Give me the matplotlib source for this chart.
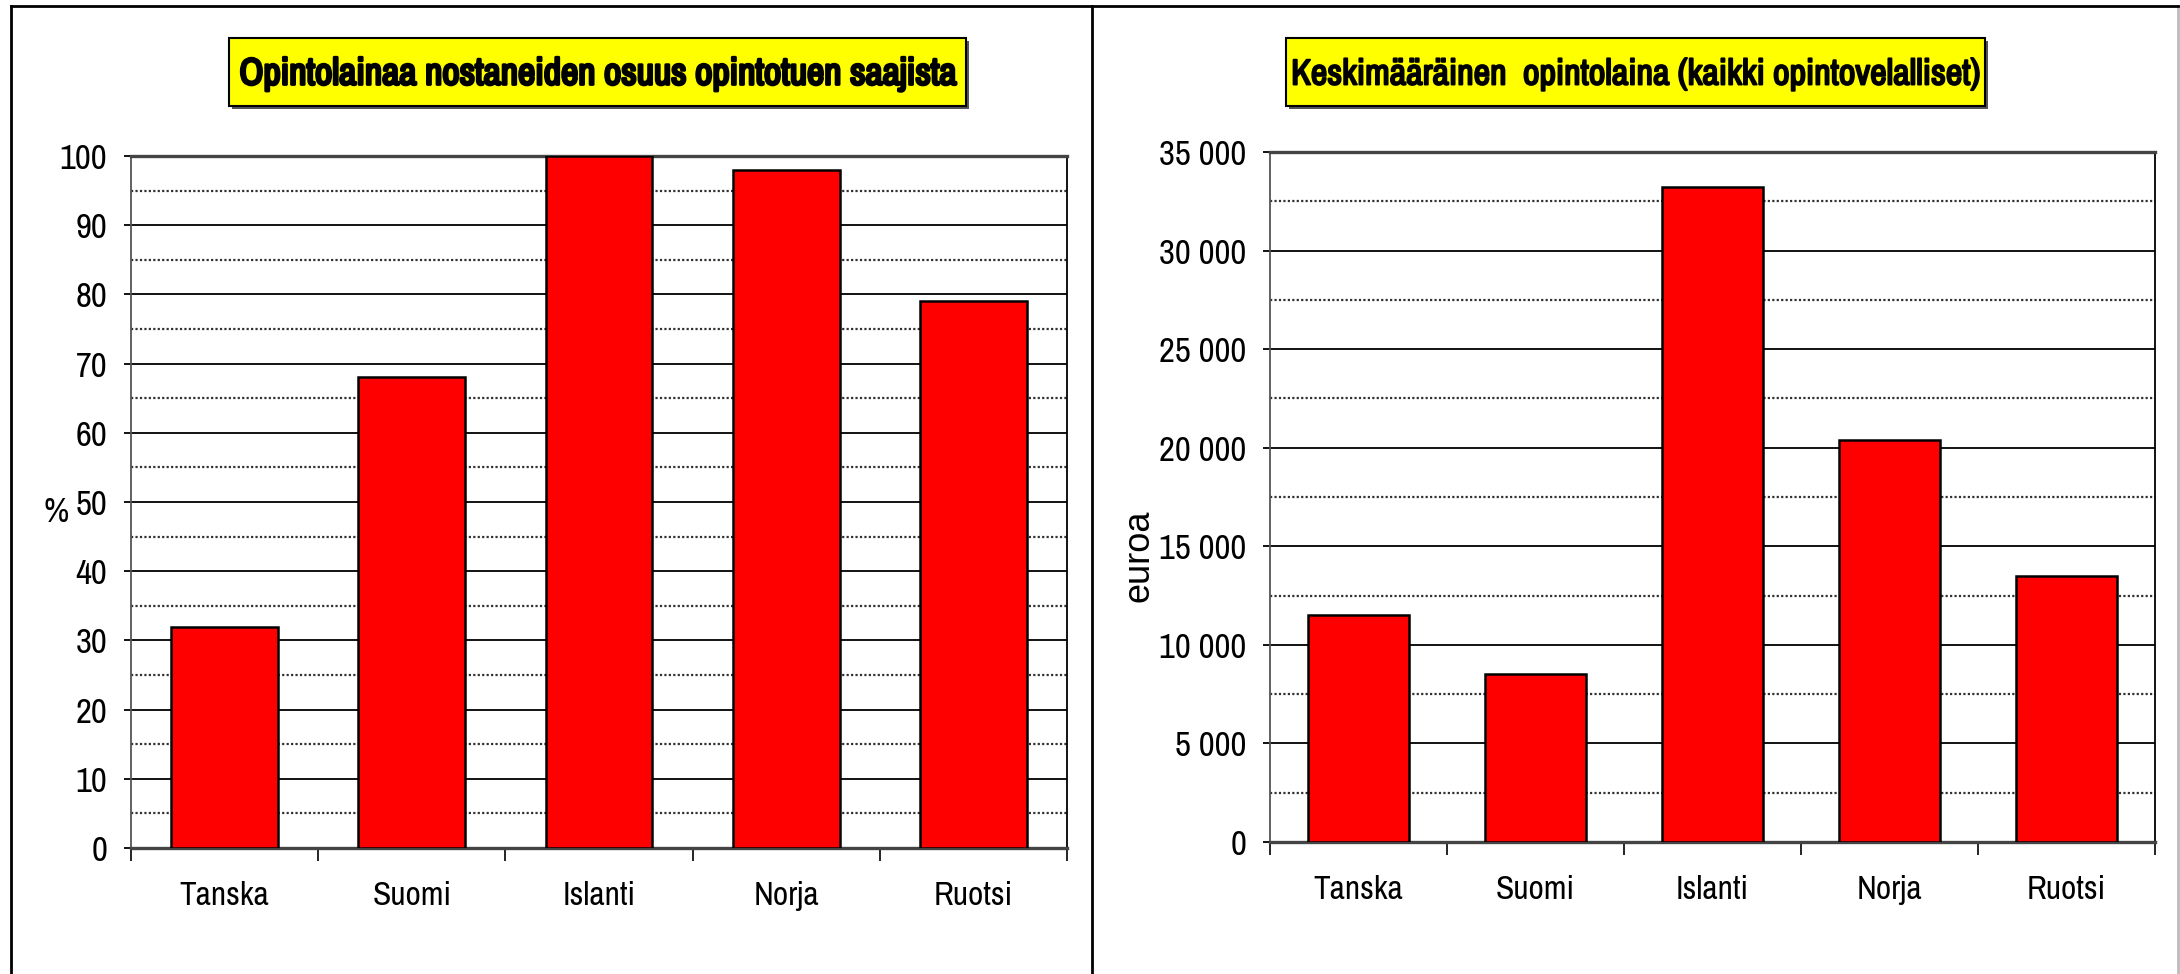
import matplotlib
matplotlib.use("Agg")
import matplotlib.pyplot as plt
import matplotlib.patheffects as pe
from matplotlib import font_manager
from matplotlib.patches import Rectangle
from matplotlib.lines import Line2D
from matplotlib.ticker import FuncFormatter, MultipleLocator

# data
countries = ["Tanska", "Suomi", "Islanti", "Norja", "Ruotsi"]
share_pct = [32, 68, 100, 98, 79]
avg_loan_eur = [11500, 8500, 33200, 20400, 13500]

title_left = "Opintolainaa nostaneiden osuus opintotuen saajista"
title_right = "Keskimääräinen  opintolaina (kaikki opintovelalliset)"

W, H = 2180, 974
names = {f.name for f in font_manager.fontManager.ttflist}
NARROW = next((n for n in ["Liberation Sans Narrow", "Archivo Narrow", "PT Sans Narrow",
                           "Roboto Condensed", "Fira Sans Condensed"] if n in names), "DejaVu Sans")

plt.rcParams.update({"font.family": [NARROW, "DejaVu Sans"], "font.size": 24})


def fx(px):
    return px / W


def fy(py):
    return 1 - py / H


def axes_rect(left, top, right, bottom):
    return [fx(left), fy(bottom), fx(right) - fx(left), fy(top) - fy(bottom)]


def setup_axis(ax, ymax, major, minor, fmt):
    ax.set_xlim(-0.5, len(countries) - 0.5)
    ax.set_ylim(0, ymax)
    ax.set_axisbelow(True)
    ax.yaxis.set_major_locator(MultipleLocator(major))
    ax.yaxis.set_minor_locator(MultipleLocator(minor))
    ax.yaxis.set_major_formatter(FuncFormatter(fmt))
    ax.grid(True, which="major", axis="y", color="black", linewidth=1.3)
    ax.grid(True, which="minor", axis="y", color="#333333", linewidth=1.6, linestyle=(0, (1, 1)))
    ax.tick_params(axis="y", which="major", length=5, width=1.3, pad=12, labelsize=25)
    ax.tick_params(axis="y", which="minor", length=0)
    ax.set_xticks(range(len(countries)))
    ax.set_xticklabels(countries)
    ax.set_xticks([i - 0.5 for i in range(len(countries) + 1)], minor=True)
    ax.tick_params(axis="x", which="major", length=0, pad=24, labelsize=24)
    ax.tick_params(axis="x", which="minor", length=9.5, width=1.2, color="black")
    ax.spines["top"].set_color("#444444")
    ax.spines["top"].set_linewidth(2.4)
    ax.spines["bottom"].set_color("#444444")
    ax.spines["bottom"].set_linewidth(2.4)
    ax.spines["left"].set_color("#555555")
    ax.spines["left"].set_linewidth(1.3)
    ax.spines["right"].set_color("black")
    ax.spines["right"].set_linewidth(1.3)


def title_box(fig, left, right, text, text_width, stroke):
    top, bottom = 38, 106
    fig.patches.append(Rectangle((fx(left) + fx(3), fy(bottom) - 3 / H), fx(right) - fx(left), fy(top) - fy(bottom),
                                 transform=fig.transFigure, facecolor="#555555", edgecolor="none", zorder=1))
    fig.patches.append(Rectangle((fx(left), fy(bottom)), fx(right) - fx(left), fy(top) - fy(bottom),
                                 transform=fig.transFigure, facecolor="#ffff00", edgecolor="black",
                                 linewidth=1.5, zorder=2))
    t = fig.text(fx((left + right) / 2), fy(74), text, ha="center", va="center", fontsize=30,
                 fontweight="bold", zorder=3,
                 path_effects=[pe.withStroke(linewidth=stroke, foreground="black")])
    # fit the title to the width it takes in the reference
    renderer = fig.canvas.get_renderer()
    w = t.get_window_extent(renderer).width
    t.set_fontsize(min(34, 30 * text_width / w))


fig = plt.figure(figsize=(W / 100, H / 100), dpi=100)

# panel borders
for x0, x1, y0, y1, c in [
    (11, 11, 6, H, "black"),
    (1092, 1092, 6, H, "black"),
    (2178, 2178, 6, H, "#bbbbbb"),
    (11, 2178, 6, 6, "black"),
]:
    fig.lines.append(Line2D([fx(x0), fx(x1)], [fy(y0), fy(y1)], transform=fig.transFigure,
                            color=c, linewidth=2))

ax1 = fig.add_axes(axes_rect(131, 156, 1067, 848))
ax2 = fig.add_axes(axes_rect(1270, 152, 2155, 842))

setup_axis(ax1, 100, 10, 5, lambda v, p: f"{v:.0f}")
setup_axis(ax2, 35000, 5000, 2500, lambda v, p: f"{v:,.0f}".replace(",", " "))

for ax, vals in [(ax1, share_pct), (ax2, avg_loan_eur)]:
    ax.bar(range(len(countries)), vals, width=0.57, color="#ff0000", edgecolor="black", linewidth=1.8, zorder=3)

fig.text(fx(56), fy(512), "%", ha="center", va="center", fontsize=25)
fig.text(fx(1139), fy(556), "euroa", ha="center", va="center", fontsize=26, rotation=90,
         family=["Liberation Sans", "DejaVu Sans"])

title_box(fig, 229, 966, title_left, 718, 2.0)
title_box(fig, 1286, 1985, title_right, 690, 1.4)

fig.savefig("out.png", dpi=100)
